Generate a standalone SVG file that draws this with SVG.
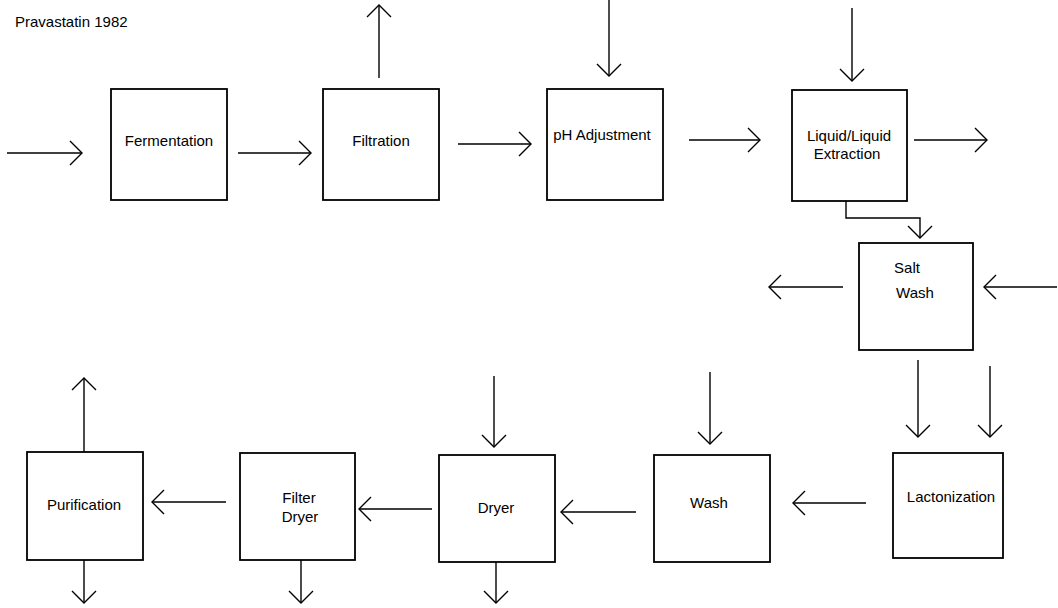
<svg xmlns="http://www.w3.org/2000/svg" width="1058" height="608" viewBox="0 0 1058 608">
<style>
.box{fill:#fff;stroke:#000;stroke-width:1.8}
.lbl{font-family:"Liberation Sans",Arial,sans-serif;font-size:15px;fill:#000;text-anchor:middle}
.title{font-family:"Liberation Sans",Arial,sans-serif;font-size:15px;fill:#000}
.arr{fill:none;stroke:#000;stroke-width:1.4;marker-end:url(#chev)}
</style>
<defs>
<marker id="chev" markerUnits="userSpaceOnUse" viewBox="0 0 14 26" refX="13" refY="13" markerWidth="14" markerHeight="26" orient="auto">
<path d="M1,1 L13,13 L1,25" fill="none" stroke="#000" stroke-width="1.4"/>
</marker>
</defs>
<rect width="1058" height="608" fill="#fff"/>
<text class="title" x="15" y="27">Pravastatin 1982</text>

<g id="fermentation"><rect class="box" x="111" y="89" width="116" height="111"/><text class="lbl" x="169" y="146">Fermentation</text></g>
<g id="filtration"><rect class="box" x="323" y="89" width="116" height="111"/><text class="lbl" x="381" y="146">Filtration</text></g>
<g id="ph"><rect class="box" x="547" y="89" width="116" height="111"/><text class="lbl" x="602" y="140">pH Adjustment</text></g>
<g id="extraction"><rect class="box" x="792" y="90" width="115" height="111"/><text class="lbl" x="849" y="141">Liquid/Liquid</text><text class="lbl" x="847" y="159">Extraction</text></g>
<g id="saltwash"><rect class="box" x="859" y="243" width="114" height="107"/><text class="lbl" x="907" y="273">Salt</text><text class="lbl" x="915" y="298">Wash</text></g>
<g id="lactonization"><rect class="box" x="893" y="453" width="110" height="105"/><text class="lbl" x="951" y="502">Lactonization</text></g>
<g id="wash"><rect class="box" x="654" y="455" width="116" height="107"/><text class="lbl" x="709" y="508">Wash</text></g>
<g id="dryer"><rect class="box" x="439" y="455" width="116" height="107"/><text class="lbl" x="496" y="513">Dryer</text></g>
<g id="filterdryer"><rect class="box" x="240" y="453" width="115" height="107"/><text class="lbl" x="299" y="503">Filter</text><text class="lbl" x="300" y="522">Dryer</text></g>
<g id="purification"><rect class="box" x="27" y="452" width="116" height="108"/><text class="lbl" x="84" y="510">Purification</text></g>

<g id="connectors">
<path class="arr" d="M7,153 H82"/>
<path class="arr" d="M238,153 H311"/>
<path class="arr" d="M379,78 V5"/>
<path class="arr" d="M458,144 H531"/>
<path class="arr" d="M609,0 V76"/>
<path class="arr" d="M689,140 H760"/>
<path class="arr" d="M852,8 V81"/>
<path class="arr" d="M914,140 H987"/>
<path class="arr" d="M846,201 V218 H920 V238"/>
<path class="arr" d="M843,287 H769"/>
<path class="arr" d="M1057,287 H984"/>
<path class="arr" d="M918,360 V437"/>
<path class="arr" d="M990,366 V437"/>
<path class="arr" d="M866,503 H793"/>
<path class="arr" d="M710,372 V444"/>
<path class="arr" d="M636,512 H561"/>
<path class="arr" d="M494,376 V447"/>
<path class="arr" d="M496,562 V603"/>
<path class="arr" d="M432,509 H359"/>
<path class="arr" d="M301,560 V603"/>
<path class="arr" d="M226,502 H152"/>
<path class="arr" d="M84,452 V378"/>
<path class="arr" d="M84,560 V603"/>
</g>
</svg>
